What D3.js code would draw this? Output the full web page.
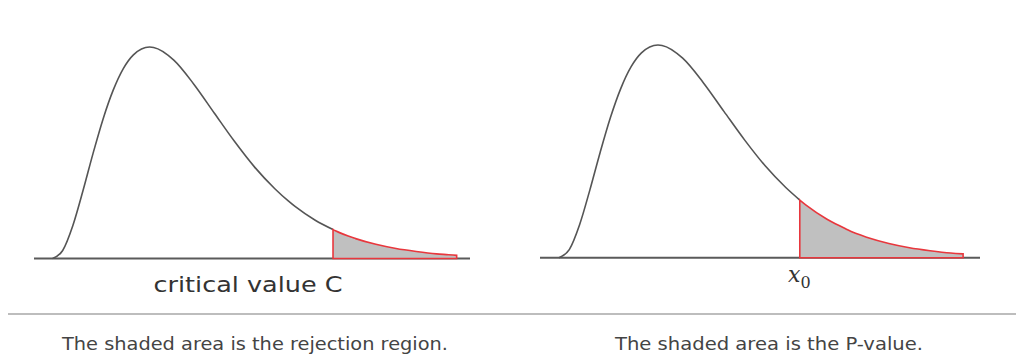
<!DOCTYPE html>
<html>
<head>
<meta charset="utf-8">
<script src="https://cdn.jsdelivr.net/npm/d3@7"></script>
<style>
  html, body { margin: 0; padding: 0; background: #ffffff; }
  svg { display: block; }
</style>
</head>
<body>
<svg id="chart" width="1024" height="363"></svg>
<script>
// Density curve (relative height, peak = 1)
const densX = [0, 0.25, 0.5, 0.75, 1, 1.25, 1.5, 1.75, 2, 2.4, 2.5, 3, 3.5, 4, 4.5, 5, 5.5, 5.84, 6, 6.5, 6.94, 7, 7.5, 8, 8.5, 9, 9.5, 9.8, 10];
const densY = [0, 0.038, 0.155, 0.319, 0.496, 0.660, 0.796, 0.898, 0.963, 1, 0.998, 0.938, 0.823, 0.688, 0.554, 0.432, 0.330, 0.271, 0.246, 0.181, 0.137, 0.131, 0.094, 0.067, 0.047, 0.033, 0.022, 0.018, 0.015];

// Shaded tails
const panelNames = ["rejection", "pvalue"];
const shadeFrom = [6.94, 5.84];
const shadeTo = [10, 9.8];
const axisLabels = ["critical value C", "x0"];
const captions = ["The shaded area is the rejection region.", "The shaded area is the P-value."];

const points = densX.map((x, i) => ({ x: x, y: densY[i] }));

// Layout (positions only)
const layout = [
  { xr: [34, 470], xd: [-0.46, 10.33], yr: [258.5, 47], labelX: 248, capX: 62, capW: 386 },
  { xr: [540, 980], xd: [-0.46, 10.21], yr: [257.7, 45], labelX: 805, capX: 615, capW: 308 }
];

const svg = d3.select("#chart");

// Horizontal divider
svg.append("line")
  .attr("x1", 8).attr("x2", 1016)
  .attr("y1", 314).attr("y2", 314)
  .attr("stroke", "#bdbdbd").attr("stroke-width", 2);

panelNames.forEach((name, i) => {
  const L = layout[i];
  const x = d3.scaleLinear().domain(L.xd).range(L.xr);
  const y = d3.scaleLinear().domain([0, 1]).range(L.yr);
  const g = svg.append("g").attr("class", "panel-" + name);

  // baseline
  g.append("line")
    .attr("x1", x(L.xd[0])).attr("x2", x(L.xd[1]))
    .attr("y1", y(0)).attr("y2", y(0))
    .attr("stroke", "#5a5a5a").attr("stroke-width", 2);

  const line = d3.line().x(d => x(d.x)).y(d => y(d.y)).curve(d3.curveMonotoneX);

  // main body of the curve up to the shaded region
  const body = points.filter(p => p.x <= shadeFrom[i] + 1e-9);
  g.append("path")
    .attr("d", line(body))
    .attr("fill", "none")
    .attr("stroke", "#555555")
    .attr("stroke-width", 1.6);

  // shaded tail
  const tail = points.filter(p => p.x >= shadeFrom[i] - 1e-9 && p.x <= shadeTo[i] + 1e-9);
  const area = d3.area().x(d => x(d.x)).y0(y(0)).y1(d => y(d.y)).curve(d3.curveMonotoneX);
  g.append("path")
    .attr("d", area(tail))
    .attr("fill", "#c0c0c0")
    .attr("stroke", "#e8373d")
    .attr("stroke-width", 1.6)
    .attr("stroke-linejoin", "miter");
});

// axis labels
svg.append("text")
  .attr("x", layout[0].labelX).attr("y", 292)
  .attr("text-anchor", "middle")
  .attr("font-family", "'DejaVu Sans', sans-serif")
  .attr("font-size", 21)
  .attr("fill", "#333333")
  .attr("textLength", 189).attr("lengthAdjust", "spacingAndGlyphs")
  .text(axisLabels[0]);

const x0 = svg.append("text")
  .attr("x", 788).attr("y", 282)
  .attr("font-family", "'DejaVu Serif', 'Liberation Serif', serif")
  .attr("font-size", 22)
  .attr("fill", "#333333");
x0.append("tspan").attr("font-style", "italic").text(axisLabels[1].charAt(0));
x0.append("tspan").attr("font-size", 16).attr("dy", 6).text(axisLabels[1].slice(1));

// captions
captions.forEach((c, i) => {
  svg.append("text")
    .attr("x", layout[i].capX).attr("y", 350)
    .attr("font-family", "'DejaVu Sans', sans-serif")
    .attr("font-size", 17)
    .attr("fill", "#444444")
    .attr("textLength", layout[i].capW).attr("lengthAdjust", "spacingAndGlyphs")
    .text(c);
});
</script>
</body>
</html>
